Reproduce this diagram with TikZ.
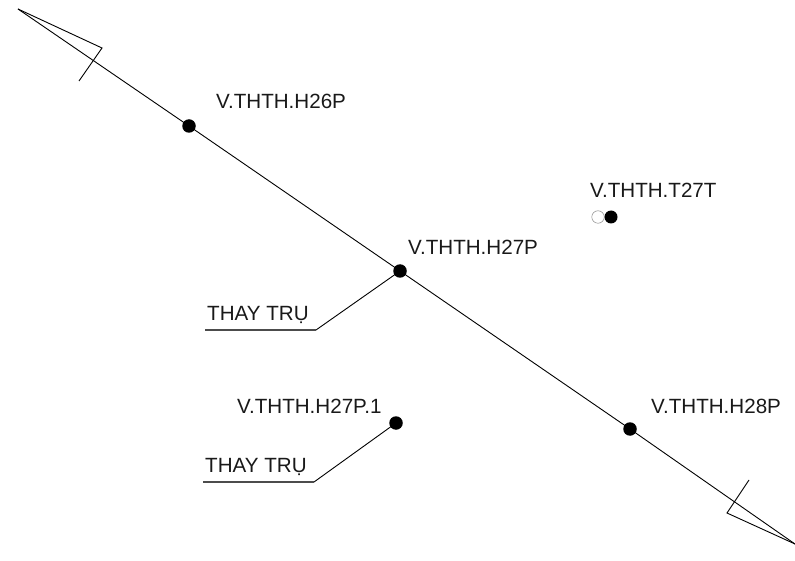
\documentclass[tikz,border=0pt]{standalone}
\usepackage{fontspec}
\setmainfont{Liberation Sans}
\tikzset{
  x=1pt,y=-1pt,
  lbl/.style={inner sep=0pt,anchor=base west,font=\fontsize{20.6}{24}\selectfont,text=black!90},
  pole/.style={circle,fill=black,inner sep=0pt,minimum size=13.5pt},
  hollow/.style={circle,draw=black!45,fill=white,line width=0.5pt,inner sep=0pt,minimum size=12.5pt},
  wire/.style={draw=black,line width=0.9pt,line join=miter},
  shelf/.style={draw=black!70,line width=1.2pt},
}
\begin{document}
\begin{tikzpicture}
\useasboundingbox (0,0) rectangle (795,561);
\coordinate (tipA) at (18,9);
\coordinate (barbA) at (102,48);
\coordinate (tickA) at (79,81);
\coordinate (tipB) at (795,544);
\coordinate (barbB) at (727,513);
\coordinate (tickB) at (749,480);
\coordinate (k1) at (316,330);
\coordinate (s1) at (205,330);
\coordinate (k2) at (314,482);
\coordinate (s2) at (203,482);
\node[pole] (h26) at (189,126) {};
\node[pole] (h27) at (400,271) {};
\node[pole] (h28) at (630,429) {};
\node[pole] (h271) at (396,423) {};
\node[hollow] (o27) at (598,217) {};
\node[pole,minimum size=13pt] (t27) at (611,217) {};
\draw[wire] (tipA) -- (h26.center) -- (h27.center) -- (h28.center) -- (tipB);
\draw[wire] (tipA) -- (barbA) -- (tickA);
\draw[wire] (tipB) -- (barbB) -- (tickB);
\draw[wire] (k1) -- (h27.center);
\draw[wire] (k2) -- (h271.center);
\draw[shelf] (s1) -- (k1);
\draw[shelf] (s2) -- (k2);
\node[lbl] (a) at (216,108.5) {V.THTH.H26P};
\node[lbl] (b) at (408,255) {V.THTH.H27P};
\node[lbl] (c) at (590,198) {V.THTH.T27T};
\node[lbl] (d) at (651,413) {V.THTH.H28P};
\node[lbl] (e) at (237,413) {V.THTH.H27P.1};
\node[lbl] (f) at (207,320) {THAY TRỤ};
\node[lbl] (g) at (205,472) {THAY TRỤ};
\end{tikzpicture}
\end{document}
